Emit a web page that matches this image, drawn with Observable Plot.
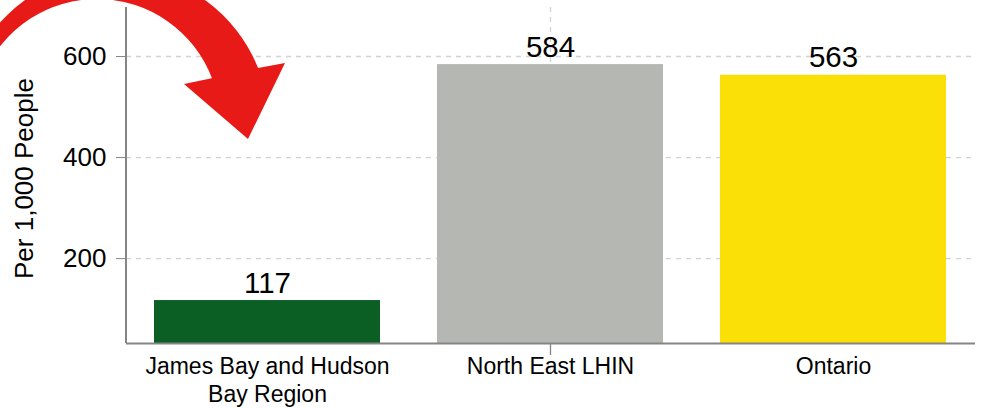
<!DOCTYPE html>
<html>
<head>
<meta charset="utf-8">
<script src="https://cdn.jsdelivr.net/npm/d3@7"></script>
<script src="https://cdn.jsdelivr.net/npm/@observablehq/plot@0.6"></script>
<style>
  html, body { margin: 0; padding: 0; background: #fff; }
  #chart svg { display: block; }
</style>
</head>
<body>
<div id="chart"></div>
<script>
const categories = ["James Bay and Hudson Bay Region", "North East LHIN", "Ontario"];
const categoryLabels = ["James Bay and Hudson\nBay Region", "North East LHIN", "Ontario"];
const values = [117, 584, 563];
const barColors = ["#0b5e24", "#b5b7b2", "#fbe007"];
const yTicks = [200, 400, 600];
const yDomain = [32, 697];
const yLabel = "Per 1,000 People";
const highlightedCategory = "North East LHIN";

// Decorative curved arrow annotation (pixel geometry, not data)
const arrowStyle = {
  color: "#e81a18",
  outer: {cx: 115, cy: 125, r: 154, a0: -150, a1: -21.7},
  inner: {cx: 97, cy: 122, r: 123, a0: -157, a1: -20.8},
  head: [[285, 63], [248, 139], [184, 84], [213, 78]]
};

const data = categories.map((c, i) => ({category: c, label: categoryLabels[i], value: values[i]}));

const rad = Math.PI / 180;
function renderArrow() {
  const p = d3.path();
  const o = arrowStyle.outer, n = arrowStyle.inner;
  p.arc(o.cx, o.cy, o.r, o.a0 * rad, o.a1 * rad, false);
  for (const [x, y] of arrowStyle.head) p.lineTo(x, y);
  p.arc(n.cx, n.cy, n.r, n.a1 * rad, n.a0 * rad, true);
  p.closePath();
  return d3.create("svg:path").attr("d", p.toString()).attr("fill", arrowStyle.color).node();
}
function renderLeftLine(index, scales, values, dims) {
  const x = dims.marginLeft;
  return d3.create("svg:line")
    .attr("x1", x).attr("x2", x)
    .attr("y1", dims.marginTop).attr("y2", dims.height - dims.marginBottom)
    .attr("stroke", "#858585").attr("stroke-width", 2).node();
}

const chart = Plot.plot({
  width: 981,
  height: 408,
  marginLeft: 126,
  marginRight: 6,
  marginTop: 7,
  marginBottom: 65,
  style: {fontFamily: "'Liberation Sans', Arial, sans-serif", color: "#000", background: "#fff"},
  x: {domain: categories, paddingInner: 0.2, paddingOuter: 0.1, axis: null},
  y: {domain: yDomain, axis: null},
  color: {domain: categories, range: barColors},
  marks: [
    Plot.ruleY(yTicks, {stroke: "#d2d2d2", strokeWidth: 1.3, strokeDasharray: "5,5"}),
    Plot.ruleX([highlightedCategory], {stroke: "#d2d2d2", strokeWidth: 1.3, strokeDasharray: "5,5"}),
    Plot.barY(data, {x: "category", y1: yDomain[0], y2: "value", fill: "category"}),
    Plot.ruleY([yDomain[0]], {stroke: "#858585", strokeWidth: 2}),
    Plot.ruleX([highlightedCategory], {y1: yDomain[0], y2: yDomain[0], insetBottom: -12, stroke: "#858585", strokeWidth: 1.3}),
    Plot.frame({render: renderLeftLine}),
    Plot.axisY({ticks: yTicks, tickSize: 10, tickPadding: 10, stroke: "#858585", fill: "#000", fontSize: 26, label: null}),
    Plot.text([yLabel], {frameAnchor: "left", textAnchor: "middle", rotate: -90, dx: -102, dy: 3, fontSize: 26, fill: "#000"}),
    Plot.text(data, {x: "category", y: "value", text: d => String(d.value), lineAnchor: "bottom", dy: -8, fontSize: 29.5, fill: "#000"}),
    Plot.text(data, {x: "category", y: yDomain[0], text: "label", lineAnchor: "top", dy: 11, fontSize: 23, lineHeight: 1.2, fill: "#000"}),
    Plot.frame({render: renderArrow})
  ]
});
document.getElementById("chart").appendChild(chart);
</script>
</body>
</html>
